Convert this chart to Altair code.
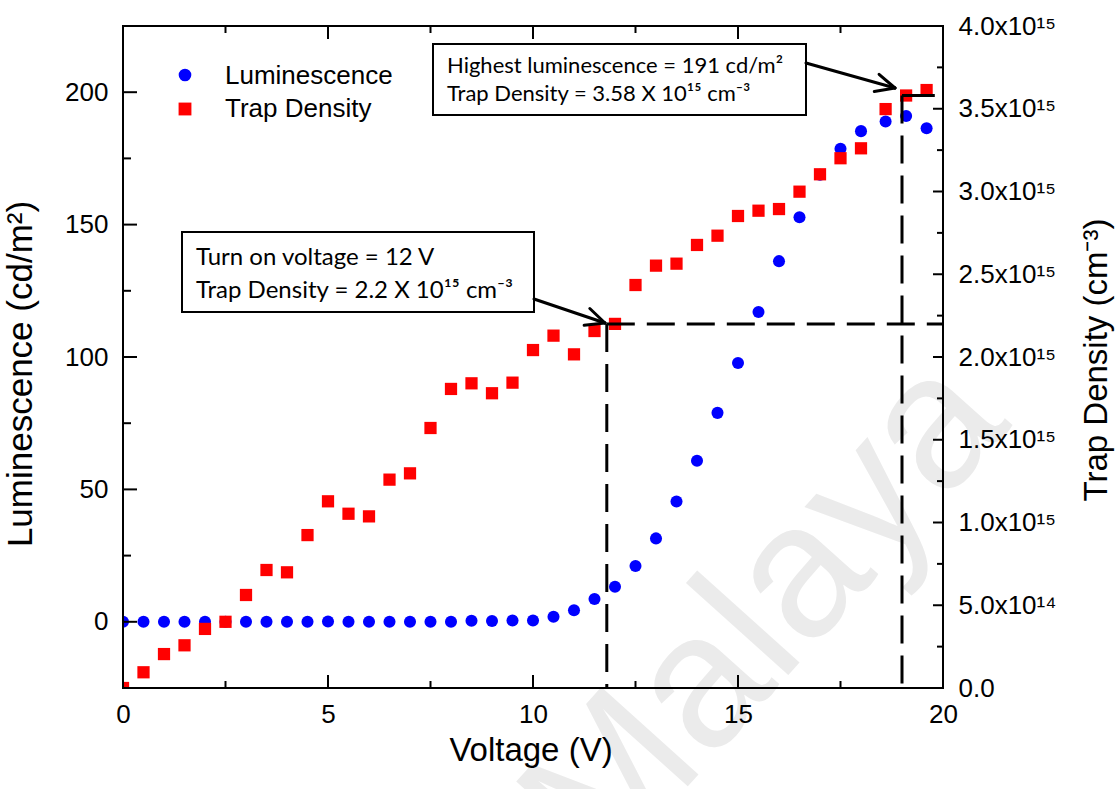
import math

import altair as alt
import pandas as pd

# ---- measured data ---------------------------------------------------------
voltage = [0.0, 0.5, 1.0, 1.5, 2.0, 2.5, 3.0, 3.5, 4.0, 4.5,
           5.0, 5.5, 6.0, 6.5, 7.0, 7.5, 8.0, 8.5, 9.0, 9.5,
           10.0, 10.5, 11.0, 11.5, 12.0, 12.5, 13.0, 13.5, 14.0, 14.5,
           15.0, 15.5, 16.0, 16.5, 17.0, 17.5, 18.0, 18.6, 19.1, 19.6]
luminescence = [0, 0, 0, 0, 0, 0, 0, 0, 0, 0,
                0.1, 0, 0, 0, 0, 0, 0, 0.4, 0.3, 0.5,
                0.5, 1.9, 4.4, 8.6, 13.2, 21.1, 31.5, 45.4, 60.8, 78.9,
                97.7, 117.0, 136.2, 152.8, 168.8, 178.6, 185.3, 188.9, 191.0, 186.4]
trap_density_e15 = [0.0, 0.095, 0.205, 0.258, 0.357, 0.40, 0.562, 0.713, 0.699, 0.924,
                    1.128, 1.053, 1.037, 1.259, 1.297, 1.571, 1.807, 1.841, 1.781, 1.845,
                    2.042, 2.129, 2.016, 2.157, 2.2, 2.435, 2.552, 2.564, 2.677, 2.733,
                    2.852, 2.884, 2.894, 2.999, 3.104, 3.201, 3.261, 3.498, 3.58, 3.613]

# reference lines: turn-on point and highest-luminescence point
turn_on_v = 11.8
turn_on_trap = 2.2e15
peak_v = 19.0
peak_trap = 3.58e15
peak_marker_end_v = 19.8

# tick positions
x_major = [0, 5, 10, 15, 20]
x_minor = [2.5, 7.5, 12.5, 17.5]
lum_major = [0, 50, 100, 150, 200]
lum_minor = [25, 75, 125, 175]
trap_major = [0.0, 0.5e15, 1.0e15, 1.5e15, 2.0e15, 2.5e15, 3.0e15, 3.5e15, 4.0e15]
trap_minor = [0.25e15, 0.75e15, 1.25e15, 1.75e15, 2.25e15, 2.75e15, 3.25e15, 3.75e15]

# ---- layout ----------------------------------------------------------------
W, H = 820, 662          # plot area
X0, Y0 = 123, 26         # plot origin on the page
FONT = "Liberation Sans"
BOX_FONT = "Lato"
BLUE = "#0000ff"
RED = "#ff0000"

df = pd.DataFrame({
    "voltage": voltage,
    "lum": luminescence,
    "trap": [t * 1e15 for t in trap_density_e15],
})
one_row = pd.DataFrame({"k": [0]})

x_scale = alt.Scale(domain=[0, 20], nice=False, zero=False)
lum_scale = alt.Scale(domain=[-25, 225], nice=False, zero=False)
trap_scale = alt.Scale(domain=[0, 4e15], nice=False, zero=False)

axis_common = dict(labelFont=FONT, labelFontSize=26, labelColor="black",
                   labelFlush=False, labelOverlap=False,
                   tickSize=0, tickOpacity=0, domain=False, grid=False,
                   title=None, zindex=1)

# every layer that shares a scale also shares the same axis definition
x_axis = alt.Axis(values=x_major, format="d", labelPadding=13, orient="bottom", **axis_common)
lum_axis = alt.Axis(values=lum_major, format="d", labelPadding=15, orient="left", **axis_common)
trap_axis = alt.Axis(
    values=trap_major, labelPadding=15, orient="right",
    labelExpr=("datum.value == 0 ? '0.0' : (datum.value < 1e15 ? "
               "format(datum.value / 1e14, '.1f') + 'x10\u00b9\u2074' : "
               "format(datum.value / 1e15, '.1f') + 'x10\u00b9\u2075')"),
    **axis_common)


def px(x, y):
    """Page pixel position -> plot-area pixel values."""
    return alt.value(x - X0), alt.value(y - Y0)


def seg(x1, y1, x2, y2, width=3):
    a, b = px(x1, y1)
    c, d = px(x2, y2)
    return alt.Chart(one_row).mark_rule(
        color="black", strokeWidth=width, strokeCap="round"
    ).encode(x=a, y=b, x2=c, y2=d)


def arrow(x1, y1, x2, y2, head=21, spread=25):
    ang = math.atan2(y2 - y1, x2 - x1)
    parts = [seg(x1, y1, x2, y2)]
    for s in (-1, 1):
        a = ang + math.pi + s * math.radians(spread)
        parts.append(seg(x2 + head * math.cos(a), y2 + head * math.sin(a), x2, y2))
    return parts


def label(text, x, y, size, font=FONT, align="left", angle=0):
    a, b = px(x, y)
    return alt.Chart(one_row).mark_text(
        text=text, font=font, fontSize=size, color="black",
        align=align, baseline="alphabetic", angle=angle,
    ).encode(x=a, y=b)


def box(x1, y1, x2, y2):
    a, b = px(x1, y1)
    c, d = px(x2, y2)
    return alt.Chart(one_row).mark_rect(
        fill="white", stroke="black", strokeWidth=2
    ).encode(x=a, y=b, x2=c, y2=d)


# ---- watermark --------------------------------------------------------------
wm_x, wm_y = px(808, 653)
watermark = alt.Chart(one_row).mark_text(
    text="Malaya", font=FONT, fontSize=190, color="#ebebeb",
    angle=312, align="center", baseline="alphabetic",
).encode(x=wm_x, y=wm_y)

# ---- luminescence (left axis) ---------------------------------------------
lum_points = alt.Chart(df).mark_circle(size=145, color=BLUE, opacity=1, clip=True).encode(
    x=alt.X("voltage:Q", scale=x_scale, axis=x_axis),
    y=alt.Y("lum:Q", scale=lum_scale, axis=lum_axis),
)


def y_ticks(values, scale, axis, x_from, x_to):
    return alt.Chart(pd.DataFrame({"v": values})).mark_rule(color="black", strokeWidth=2).encode(
        y=alt.Y("v:Q", scale=scale, axis=axis),
        x=alt.value(x_from), x2=alt.value(x_to),
    )


lum_layer = alt.layer(
    lum_points,
    y_ticks(lum_major, lum_scale, lum_axis, 0, 14),
    y_ticks(lum_minor, lum_scale, lum_axis, 0, 8),
)

# ---- trap density (right axis) ---------------------------------------------
trap_points = alt.Chart(df).mark_square(size=150, color=RED, opacity=1, clip=True).encode(
    x=alt.X("voltage:Q", scale=x_scale, axis=x_axis),
    y=alt.Y("trap:Q", scale=trap_scale, axis=trap_axis),
)

guide_df = pd.DataFrame({
    "v1": [turn_on_v, turn_on_v, peak_v],
    "v2": [20.0, turn_on_v, peak_v],
    "t1": [turn_on_trap, turn_on_trap, peak_trap],
    "t2": [turn_on_trap, 0.0, 0.0],
})
dashed_guides = alt.Chart(guide_df).mark_rule(
    color="black", strokeWidth=3, strokeDash=[28, 12]
).encode(
    x=alt.X("v1:Q", scale=x_scale, axis=x_axis), x2="v2:Q",
    y=alt.Y("t1:Q", scale=trap_scale, axis=trap_axis), y2="t2:Q",
)
peak_df = pd.DataFrame({"v1": [peak_v], "v2": [peak_marker_end_v], "t": [peak_trap]})
peak_marker = alt.Chart(peak_df).mark_rule(color="black", strokeWidth=3).encode(
    x=alt.X("v1:Q", scale=x_scale, axis=x_axis), x2="v2:Q",
    y=alt.Y("t:Q", scale=trap_scale, axis=trap_axis),
)

trap_layer = alt.layer(
    trap_points,
    dashed_guides,
    peak_marker,
    y_ticks(trap_major, trap_scale, trap_axis, W, W - 10),
    y_ticks(trap_minor, trap_scale, trap_axis, W, W - 6),
)


# ---- x ticks (bottom and top) ------------------------------------------------
def x_ticks(values, length):
    base = alt.Chart(pd.DataFrame({"v": values})).mark_rule(color="black", strokeWidth=2)
    enc = dict(x=alt.X("v:Q", scale=x_scale, axis=x_axis))
    return [
        base.encode(y=alt.value(H), y2=alt.value(H - length), **enc),
        base.encode(y=alt.value(0), y2=alt.value(length), **enc),
    ]


frame = alt.Chart(one_row).mark_rect(
    fill="white", fillOpacity=0, stroke="black", strokeWidth=2
).encode(x=alt.value(0), x2=alt.value(W), y=alt.value(0), y2=alt.value(H))

# ---- legend ----------------------------------------------------------------
lc_x, lc_y = px(185, 75)
ls_x, ls_y = px(185, 109)
legend = [
    alt.Chart(one_row).mark_circle(size=160, color=BLUE, opacity=1).encode(x=lc_x, y=lc_y),
    alt.Chart(one_row).mark_square(size=165, color=RED, opacity=1).encode(x=ls_x, y=ls_y),
    label("Luminescence", 225, 84, 26),
    label("Trap Density", 225, 117, 26),
]

# ---- annotations -------------------------------------------------------------
annotations = [
    box(182, 232, 534, 312),
    label("Turn on voltage = 12 V", 196, 265, 24, font=BOX_FONT),
    label("Trap Density = 2.2 X 10\u00b9\u2075 cm\u207b\u00b3", 196, 298, 24, font=BOX_FONT),
    *arrow(534, 299, 605, 323),
    box(433, 44, 806, 115),
    label("Highest luminescence = 191 cd/m\u00b2", 447, 73, 22, font=BOX_FONT),
    label("Trap Density = 3.58 X 10\u00b9\u2075 cm\u207b\u00b3", 447, 101, 22, font=BOX_FONT),
    *arrow(806, 63, 895, 88),
]

# ---- axis titles ---------------------------------------------------------------
titles = [
    label("Voltage (V)", 531, 761, 33, align="center"),
    label("Luminescence (cd/m\u00b2)", 32, 374, 35, align="center", angle=270),
    label("Trap Density (cm\u207b\u00b3)", 1107, 360, 33, align="center", angle=270),
]

chart = alt.layer(
    watermark,
    lum_layer,
    trap_layer,
    *x_ticks(x_major, 13),
    *x_ticks(x_minor, 7),
    frame,
    *legend,
    *annotations,
    *titles,
).resolve_scale(
    y="independent"
).properties(
    width=W,
    height=H,
    autosize=alt.AutoSizeParams(type="none"),
    padding={"left": X0, "top": Y0, "right": 1120 - X0 - W, "bottom": 789 - Y0 - H},
    background="white",
).configure_view(
    stroke=None
)

chart.save("out.html", embed_options={"renderer": "svg", "actions": False})
